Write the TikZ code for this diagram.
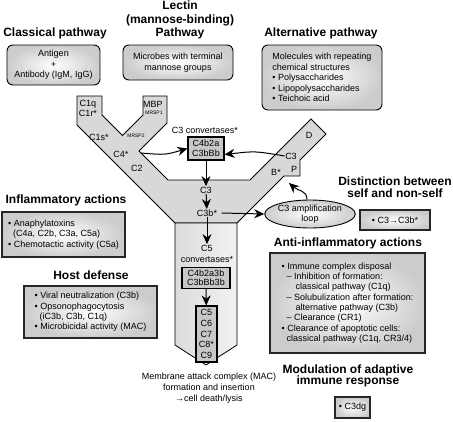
\documentclass[tikz,border=0pt]{standalone}
\usepackage{fontspec}
\setmainfont{Liberation Sans}
\usetikzlibrary{arrows.meta,shapes.geometric}
\definecolor{ygray}{RGB}{216,216,216}
\definecolor{boxgray}{RGB}{200,200,200}
\tikzset{
  pathbox/.style={draw,line width=0.9pt,rounded corners=6pt,inner color=white,outer color=gray!40,align=center,inner sep=0pt},
  actbox/.style={draw=black!85,line width=1.3pt,inner color=white,outer color=gray!40,align=left,inner sep=0pt,font=\fontsize{9}{10.3}\selectfont},
  titlelbl/.style={font=\bfseries\fontsize{12}{11.7}\selectfont,align=center,inner sep=0pt},
  inbox/.style={draw,line width=1.1pt,fill=boxgray,align=center,inner sep=1pt,font=\fontsize{9}{9.5}\selectfont},
  lbl/.style={inner sep=0.5pt,align=center,font=\fontsize{9}{9.5}\selectfont},
  smalllbl/.style={font=\fontsize{5}{6}\selectfont,inner sep=0pt},
  arr/.style={-{Stealth[length=10pt,width=9pt]},line width=1pt},
}
\begin{document}
\begin{tikzpicture}[x=1pt,y=-1pt,every node/.style={font=\fontsize{9}{10.5}\selectfont}]
\useasboundingbox (0,0) rectangle (453,421);
\draw[fill=ygray,line width=0.8pt] (77,96) -- (102,96) -- (102,115) -- (122.5,135.5) -- (143,115) -- (143,96) -- (167,96) -- (167,123) -- (139,151) -- (168,180) -- (250,180) -- (311,119) -- (326,134) -- (300,160) -- (300,176) -- (284,176) -- (237,223) -- (175,223) -- (77,125) -- cycle;
\draw[left color=gray!28,right color=gray!10,line width=0.8pt] (175,223) -- (237,223) -- (237,345) -- (206,365) -- (175,345) -- cycle;
\node[titlelbl] (classt) at (55,33) {Classical pathway};
\node[titlelbl,font=\bfseries\fontsize{12}{13.3}\selectfont] (lectt) at (180,20) {Lectin\\(mannose-binding)\\Pathway};
\node[titlelbl] (altt) at (321,33) {Alternative pathway};
\node[titlelbl] (inflt) at (66,200) {Inflammatory actions};
\node[titlelbl] (hostt) at (91,275) {Host defense};
\node[titlelbl] (distt) at (395,187.5) {Distinction between\\self and non-self};
\node[titlelbl] (antit) at (348,243) {Anti-inflammatory actions};
\node[titlelbl] (modt) at (348,376) {Modulation of adaptive\\immune response};
\node[pathbox,minimum width=93pt,minimum height=40pt] (classb) at (53.5,65) {Antigen\\+\\Antibody (IgM, IgG)};
\node[pathbox,minimum width=110pt,minimum height=35pt] (lectb) at (178,62.5) {Microbes with terminal\\mannose groups};
\node[pathbox,minimum width=120pt,minimum height=65pt,align=left] (altb) at (322,77.5) {Molecules with repeating\\chemical structures\\• Polysaccharides\\• Lipopolysaccharides\\• Teichoic acid};
\node[actbox,minimum width=123pt,minimum height=45pt] (inflb) at (63.5,234.5) {• Anaphylatoxins\\\hspace*{5pt}(C4a, C2b, C3a, C5a)\\• Chemotactic activity (C5a)};
\node[actbox,minimum width=133pt,minimum height=52pt] (hostb) at (90.5,312) {• Viral neutralization (C3b)\\• Opsonophagocytosis\\\hspace*{5pt}(iC3b, C3b, C1q)\\• Microbicidal activity (MAC)};
\node[actbox,minimum width=70pt,minimum height=20pt] (distb) at (395,220) {• C3→C3b*};
\node[actbox,minimum width=155pt,minimum height=100pt] (antib) at (347.5,303) {• Immune complex disposal\\\hspace*{5pt}– Inhibition of formation:\\\hspace*{14pt}classical pathway (C1q)\\\hspace*{5pt}– Solubulization after formation:\\\hspace*{14pt}alternative pathway (C3b)\\\hspace*{5pt}– Clearance (CR1)\\• Clearance of apoptotic cells:\\\hspace*{5pt}classical pathway (C1q, CR3/4)};
\node[actbox,minimum width=35pt,minimum height=21pt] (modb) at (352.5,407.5) {• C3dg};
\node[lbl] (c1q) at (88,108.5) {C1q\\C1r*};
\node[lbl] (mbp) at (153,104) {MBP};
\node[smalllbl] (mrsp1) at (154,113) {MRSP1};
\node[lbl] (c1s) at (99,137) {C1s*};
\node[smalllbl] (mrsp2) at (136,136) {MRSP2};
\node[lbl] (c4) at (121,154) {C4*};
\node[lbl] (c2) at (137,168) {C2};
\node[lbl] (d) at (309,135) {D};
\node[lbl] (rc3) at (291,156) {C3};
\node[lbl] (p) at (294,169) {P};
\node[lbl] (bstar) at (276,172) {B*};
\node[lbl] (c3convt) at (205,130) {C3 convertases*};
\node[inbox,minimum width=36pt,minimum height=23pt] (c3conv) at (206,148.5) {C4b2a\\C3bBb};
\node[lbl] (c3) at (206,190) {C3};
\node[lbl] (c3b) at (207,213) {C3b*};
\node[lbl,font=\fontsize{9}{11}\selectfont] (c5) at (207,253.5) {C5\\convertases*};
\node[inbox,minimum width=48pt,minimum height=21pt] (c5conv) at (206,278) {C4b2a3b\\C3bBb3b};
\node[inbox,minimum width=21pt,minimum height=56pt,inner sep=0pt,font=\fontsize{9}{10.7}\selectfont] (mac) at (206.5,334) {C5\\C6\\C7\\C8*\\C9};
\node[lbl,font=\fontsize{9}{11}\selectfont] (mact) at (209,388) {Membrane attack complex (MAC)\\formation and insertion\\→cell death/lysis};
\node[ellipse,draw,line width=0.9pt,inner color=white,outer color=gray!40,minimum width=84pt,minimum height=28pt,inner sep=0pt,align=center] (ampl) at (310,214) {C3 amplification\\loop};
\coordinate (notch) at (141,153);
\coordinate (bnotch) at (289,183);
\draw[arr] (notch) .. controls (165,155) .. (c3conv.west);
\draw[arr] (rc3.west) .. controls (255,151) .. ([yshift=-6pt]c3conv.east);
\foreach \a/\b in {c3conv/c3,c3/c3b,c3b/c5,c5conv/mac}{\draw[arr] (\a) -- (\b);}
\draw[arr] ([xshift=4pt]c3b.east) -- (ampl.west);
\draw[arr] ([xshift=-3pt]ampl.north) .. controls (307,190) and (298,191) .. (bnotch);
\end{tikzpicture}
\end{document}
